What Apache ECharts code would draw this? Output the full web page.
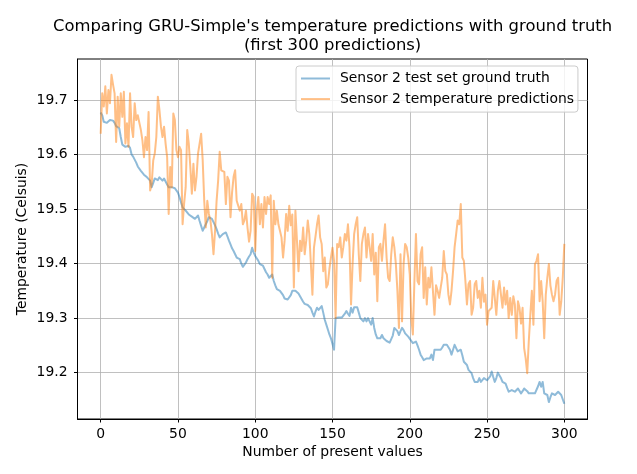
<!DOCTYPE html>
<html>
<head>
<meta charset="utf-8">
<script src="https://cdn.jsdelivr.net/npm/echarts@6/dist/echarts.min.js"></script>
<style>
html, body { margin: 0; padding: 0; background: #fff; }
#main { width: 637px; height: 474px; }
</style>
</head>
<body>
<div id="main"></div>
<script>
// values, index = number of present values
var groundTruth = [
    19.677, 19.672, 19.66, 19.658, 19.658, 19.66, 19.663, 19.666, 19.662, 19.658,
    19.652, 19.65, 19.648, 19.632, 19.618, 19.616, 19.614, 19.614, 19.616, 19.612,
    19.6, 19.596, 19.593, 19.585, 19.578, 19.575, 19.57, 19.567, 19.563, 19.561,
    19.558, 19.555, 19.552, 19.54, 19.548, 19.556, 19.556, 19.553, 19.558, 19.556,
    19.552, 19.556, 19.554, 19.545, 19.54, 19.539, 19.54, 19.538, 19.538, 19.537,
    19.53, 19.522, 19.512, 19.503, 19.5, 19.497, 19.495, 19.49, 19.488, 19.486,
    19.484, 19.482, 19.485, 19.488, 19.478, 19.469, 19.46, 19.466, 19.472, 19.478,
    19.485, 19.488, 19.482, 19.476, 19.47, 19.463, 19.455, 19.448, 19.45, 19.454,
    19.456, 19.457, 19.45, 19.442, 19.435, 19.428, 19.423, 19.417, 19.411, 19.41,
    19.408, 19.4, 19.394, 19.392, 19.402, 19.408, 19.413, 19.417, 19.429, 19.42,
    19.414, 19.411, 19.405, 19.399, 19.398, 19.396, 19.39, 19.384, 19.38, 19.374,
    19.377, 19.38, 19.368, 19.36, 19.353, 19.351, 19.35, 19.349, 19.342, 19.336,
    19.334, 19.334, 19.334, 19.342, 19.35, 19.35, 19.35, 19.35, 19.345, 19.34,
    19.335, 19.33, 19.326, 19.325, 19.324, 19.322, 19.318, 19.31, 19.303, 19.312,
    19.319, 19.315, 19.313, 19.322, 19.31, 19.297, 19.288, 19.279, 19.27, 19.263,
    19.263, 19.242, 19.3, 19.301, 19.301, 19.301, 19.301, 19.303, 19.308, 19.313,
    19.308, 19.304, 19.319, 19.31, 19.32, 19.32, 19.32, 19.31, 19.3, 19.298,
    19.294, 19.3, 19.294, 19.3, 19.294, 19.288, 19.3, 19.282, 19.27, 19.263,
    19.263, 19.263, 19.269, 19.263, 19.26, 19.258, 19.257, 19.255, 19.254, 19.268,
    19.282, 19.28, 19.276, 19.269, 19.276, 19.282, 19.278, 19.272, 19.269, 19.266,
    19.263, 19.258, 19.254, 19.256, 19.257, 19.25, 19.242, 19.233, 19.228, 19.223,
    19.223, 19.226, 19.229, 19.226, 19.233, 19.223, 19.242, 19.242, 19.242, 19.242,
    19.242, 19.246, 19.251, 19.251, 19.251, 19.251, 19.242, 19.233, 19.242, 19.251,
    19.245, 19.239, 19.242, 19.242, 19.232, 19.22, 19.223, 19.214, 19.205, 19.202,
    19.199, 19.19, 19.183, 19.183, 19.183, 19.19, 19.183, 19.186, 19.19, 19.19,
    19.186, 19.183, 19.193, 19.202, 19.192, 19.183, 19.19, 19.2, 19.202, 19.19,
    19.183, 19.18, 19.18, 19.172, 19.165, 19.168, 19.168, 19.165, 19.165, 19.168,
    19.171, 19.168, 19.162, 19.166, 19.171, 19.171, 19.166, 19.162, 19.165, 19.162,
    19.162, 19.162, 19.162, 19.175, 19.183, 19.174, 19.183, 19.162, 19.16, 19.159,
    19.146, 19.155, 19.162, 19.162, 19.159, 19.162, 19.165, 19.162, 19.159, 19.159,
    19.143
];
var predictions = [
    19.638, 19.712, 19.688, 19.725, 19.675, 19.718, 19.694, 19.746, 19.728, 19.712,
    19.623, 19.706, 19.651, 19.712, 19.669, 19.715, 19.62, 19.657, 19.614, 19.712,
    19.651, 19.632, 19.694, 19.663, 19.672, 19.669, 19.645, 19.626, 19.595, 19.632,
    19.608, 19.678, 19.534, 19.546, 19.589, 19.602, 19.632, 19.706, 19.682, 19.651,
    19.632, 19.651, 19.62, 19.595, 19.491, 19.577, 19.54,
    19.675, 19.663, 19.608, 19.595, 19.614, 19.608, 19.472, 19.51, 19.54, 19.645,
    19.62, 19.577, 19.528, 19.583, 19.534, 19.559, 19.602, 19.62, 19.638, 19.59,
    19.515, 19.466, 19.515, 19.491, 19.479, 19.454, 19.417, 19.46, 19.515, 19.552,
    19.605, 19.571, 19.574, 19.568, 19.509, 19.559, 19.552, 19.485, 19.53, 19.559,
    19.571, 19.515, 19.515, 19.497, 19.509, 19.472, 19.479, 19.497, 19.466, 19.44,
    19.46,
    19.528, 19.522, 19.423, 19.497, 19.522, 19.472, 19.509, 19.466, 19.522, 19.491,
    19.522, 19.509, 19.525, 19.374, 19.515, 19.472, 19.497, 19.472, 19.46, 19.448,
    19.411, 19.442, 19.491, 19.46, 19.506, 19.47, 19.49, 19.356, 19.497, 19.442,
    19.386, 19.442, 19.423, 19.466, 19.417, 19.442, 19.479, 19.454, 19.40, 19.343,
    19.429, 19.45, 19.472, 19.488, 19.448, 19.436, 19.386, 19.411, 19.356, 19.362,
    19.39,
    19.411, 19.429, 19.405, 19.30, 19.436, 19.43, 19.448, 19.411, 19.43, 19.454,
    19.442, 19.472, 19.43, 19.325, 19.399, 19.454, 19.472, 19.485, 19.417, 19.368,
    19.436, 19.454, 19.466, 19.411, 19.454, 19.43, 19.405, 19.454, 19.38, 19.42,
    19.331, 19.43, 19.436, 19.405, 19.442, 19.472, 19.411, 19.374, 19.368, 19.417,
    19.448, 19.43, 19.399, 19.35, 19.282, 19.417, 19.294, 19.399, 19.436, 19.43,
    19.411, 19.38,
    19.30, 19.27, 19.368, 19.454, 19.368, 19.362, 19.417, 19.43, 19.337, 19.393,
    19.325, 19.374, 19.356, 19.393, 19.396, 19.306, 19.36, 19.35, 19.337, 19.356,
    19.374, 19.423, 19.386, 19.38, 19.343, 19.325, 19.35, 19.386, 19.43, 19.454,
    19.479, 19.472, 19.509, 19.411, 19.405, 19.368, 19.325, 19.362, 19.368, 19.306,
    19.319, 19.362, 19.368, 19.337, 19.35, 19.319, 19.374, 19.33, 19.343, 19.288,
    19.313, 19.313, 19.319, 19.368, 19.337, 19.306, 19.35, 19.368,
    19.343, 19.319, 19.356, 19.325, 19.35, 19.30, 19.337, 19.306, 19.34, 19.325,
    19.263, 19.331, 19.319, 19.29, 19.319, 19.245, 19.226, 19.199, 19.257, 19.306,
    19.35, 19.288, 19.399, 19.405, 19.417, 19.331, 19.368, 19.331, 19.263, 19.343,
    19.374, 19.399, 19.36, 19.343, 19.331, 19.343, 19.368, 19.374, 19.306, 19.33,
    19.374, 19.436
];
var xTicks = [0, 50, 100, 150, 200, 250, 300];
var yTicks = [19.2, 19.3, 19.4, 19.5, 19.6, 19.7];
var seriesNames = ['Sensor 2 test set ground truth', 'Sensor 2 temperature predictions'];

function toPairs(values) {
    return values.map(function (v, i) { return [i, v]; });
}

var font = 'DejaVu Sans';
var chart = echarts.init(document.getElementById('main'), null, { renderer: 'canvas' });

var option = {
    backgroundColor: '#ffffff',
    animation: false,
    title: {
        text: "Comparing GRU-Simple's temperature predictions with ground truth\n(first 300 predictions)",
        left: 332.6,
        top: 16.5,
        padding: 0,
        textAlign: 'center',
        textStyle: {
            fontFamily: font,
            fontSize: 16.4,
            fontWeight: 'normal',
            color: '#000',
            lineHeight: 19.5
        }
    },
    legend: {
        orient: 'vertical',
        left: 296,
        top: 66,
        padding: [4.5, 4, 5, 5],
        itemWidth: 29,
        itemHeight: 2,
        itemGap: 4.6,
        backgroundColor: 'rgba(255,255,255,0.8)',
        borderColor: '#cccccc',
        borderWidth: 1,
        borderRadius: 3,
        textStyle: { fontFamily: font, fontSize: 13.9, color: '#000', lineHeight: 16, padding: [0, 0, 0, 5] },
        data: [
            { name: seriesNames[0], icon: 'rect', itemStyle: { color: '#8fbbd9' } },
            { name: seriesNames[1], icon: 'rect', itemStyle: { color: '#ffbf86' } }
        ]
    },
    grid: {
        left: 77.5,
        top: 59,
        width: 510,
        height: 360,
        show: true,
        borderColor: '#000',
        borderWidth: 1,
        backgroundColor: 'transparent',
        containLabel: false,
        outerBoundsMode: 'none'
    },
    xAxis: {
        type: 'value',
        min: -15,
        max: 315,
        name: 'Number of present values',
        nameLocation: 'middle',
        nameGap: 26.5,
        nameMoveOverlap: false,
        nameTextStyle: { fontFamily: font, fontSize: 13.9, color: '#000' },
        axisLine: { show: true, onZero: false, lineStyle: { color: '#000', width: 1 } },
        axisTick: { show: true, length: 3.5, customValues: xTicks, lineStyle: { color: '#000', width: 1 } },
        axisLabel: { customValues: xTicks, margin: 8, fontFamily: font, fontSize: 13.9, color: '#000' },
        splitLine: { show: true, lineStyle: { color: '#b0b0b0', width: 0.8 } }
    },
    yAxis: {
        type: 'value',
        min: 19.115,
        max: 19.775,
        name: 'Temperature (Celsuis)',
        nameLocation: 'middle',
        nameGap: 48,
        nameMoveOverlap: false,
        nameTextStyle: { fontFamily: font, fontSize: 13.9, color: '#000' },
        axisLine: { show: true, onZero: false, lineStyle: { color: '#000', width: 1 } },
        axisTick: { show: true, length: 3.5, customValues: yTicks, lineStyle: { color: '#000', width: 1 } },
        axisLabel: {
            customValues: yTicks,
            margin: 10,
            fontFamily: font,
            fontSize: 13.9,
            color: '#000',
            formatter: function (v) { return v.toFixed(1); }
        },
        splitLine: { show: true, lineStyle: { color: '#b0b0b0', width: 0.8 } }
    },
    series: [
        {
            name: seriesNames[0],
            type: 'line',
            data: toPairs(groundTruth),
            showSymbol: false,
            symbol: 'none',
            color: 'rgba(31,119,180,0.5)',
            lineStyle: { width: 2, color: 'rgba(31,119,180,0.5)', join: 'round' },
            z: 2
        },
        {
            name: seriesNames[1],
            type: 'line',
            data: toPairs(predictions),
            showSymbol: false,
            symbol: 'none',
            color: 'rgba(255,127,14,0.5)',
            lineStyle: { width: 2, color: 'rgba(255,127,14,0.5)', join: 'round' },
            z: 3
        }
    ]
};
chart.setOption(option);
window.addEventListener('resize', () => chart.resize());
</script>
</body>
</html>
